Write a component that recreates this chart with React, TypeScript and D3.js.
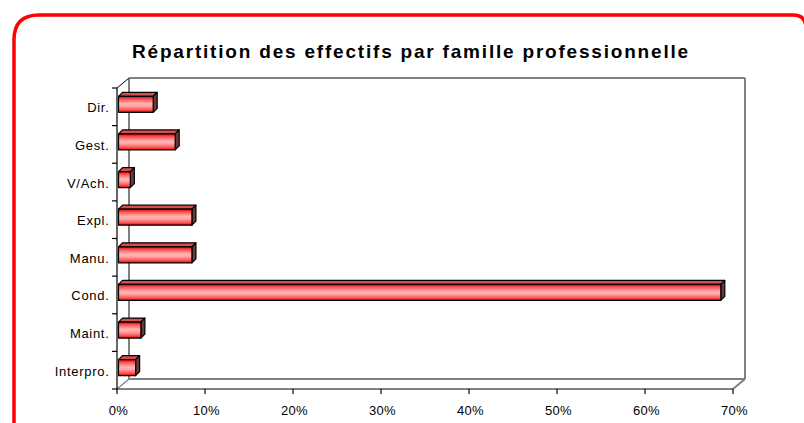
import React from "react";
import * as d3 from "d3";

const categories = ["Dir.", "Gest.", "V/Ach.", "Expl.", "Manu.", "Cond.", "Maint.", "Interpro."];
const values = [0.04, 0.065, 0.014, 0.084, 0.084, 0.685, 0.026, 0.02];
const xTicks = [0, 0.1, 0.2, 0.3, 0.4, 0.5, 0.6, 0.7];
const title = "Répartition des effectifs par famille professionnelle";

export default function App() {
  const W = 804, H = 423;
  const x = d3.scaleLinear().domain([0, 0.7]).range([117, 733]);
  const y = d3.scaleBand().domain(categories).range([88, 389]).paddingInner(0);
  const dx = 12, dy = -10;
  const bdx = 4, bdy = -4;
  const x0 = x(0), x1 = x(0.7);
  const yTop = 88, yBot = 389;
  const fmt = d3.format(".0%");
  const bh = 16;

  return (
    <svg width={W} height={H} style={{ position: "absolute", left: 0, top: 0 }} fontFamily="'Liberation Sans', Arial, sans-serif">
      <defs>
        <linearGradient id="front" x1="0" y1="0" x2="0" y2="1">
          <stop offset="0" stopColor="#e00000" />
          <stop offset="0.18" stopColor="#ff5555" />
          <stop offset="0.45" stopColor="#ffb4b4" />
          <stop offset="0.6" stopColor="#ffa8a8" />
          <stop offset="0.85" stopColor="#ff5050" />
          <stop offset="1" stopColor="#e00000" />
        </linearGradient>
      </defs>
      <rect x={0} y={0} width={W} height={H} fill="#fff" />
      <path
        d={`M14,${H + 20} L14,40 Q14,15 39,15 L793,15 Q806,15 806,28 L806,${H + 20}`}
        fill="none" stroke="#ff0000" strokeWidth={3.5}
      />
      <text x={411} y={58} textAnchor="middle" fontSize={19} fontWeight="bold" fill="#000" letterSpacing={1.8}>
        {title}
      </text>
      {/* back walls */}
      <g stroke="#808080" strokeWidth={2} fill="none">
        <line x1={x0 + dx} y1={yTop + dy} x2={x0 + dx} y2={yBot + dy} />
        <line x1={x0 + dx} y1={yTop + dy} x2={x1 + dx} y2={yTop + dy} />
        <line x1={x1 + dx} y1={yTop + dy} x2={x1 + dx} y2={yBot + dy} />
        <line x1={x0 + dx} y1={yBot + dy} x2={x1 + dx} y2={yBot + dy} />
        <line x1={x1 + dx} y1={yBot + dy} x2={x1} y2={yBot} />
        <line x1={x0} y1={yBot} x2={x0 + dx} y2={yBot + dy} strokeWidth={1.2} />
      </g>
      <line x1={x0} y1={yTop} x2={x0 + dx} y2={yTop + dy} stroke="#000" strokeWidth={1} />
      {/* bars */}
      {categories.map((c, i) => {
        const cy = (y(c) as number) + y.bandwidth() / 2 - 2.5;
        const top = cy - bh / 2, bot = cy + bh / 2;
        const l = x0 + 1.5, r = x(values[i]) + 1;
        return (
          <g key={c} stroke="#000" strokeWidth={1.2} strokeLinejoin="round">
            <path d={`M${l},${top} L${l + bdx},${top + bdy} L${r + bdx},${top + bdy} L${r},${top} Z`} fill="#d05050" />
            <path d={`M${r},${top} L${r + bdx},${top + bdy} L${r + bdx},${bot + bdy} L${r},${bot} Z`} fill="#6a3a3a" />
            <rect x={l} y={top} width={r - l} height={bh} fill="url(#front)" />
          </g>
        );
      })}
      {/* axes */}
      <g stroke="#000" strokeWidth={1.2}>
        <line x1={x0} y1={yTop} x2={x0} y2={yBot} />
        <line x1={x0} y1={yBot} x2={x1} y2={yBot} />
        {[...categories.map((c) => y(c) as number), yBot].map((t, i) => (
          <line key={"yt" + i} x1={x0 - 5} y1={t} x2={x0} y2={t} />
        ))}
        {xTicks.map((t) => (
          <line key={"xt" + t} x1={x(t)} y1={yBot} x2={x(t)} y2={yBot + 5} />
        ))}
      </g>
      {categories.map((c) => (
        <text key={"l" + c} x={109.5} y={(y(c) as number) + y.bandwidth() / 2 + 5.5} textAnchor="end" fontSize={13} letterSpacing={0.7} fill="#000">
          {c}
        </text>
      ))}
      {xTicks.map((t) => (
        <text key={"xl" + t} x={x(t) + 1.5} y={415} textAnchor="middle" fontSize={13} letterSpacing={0.3} fill="#000">
          {fmt(t)}
        </text>
      ))}
    </svg>
  );
}
